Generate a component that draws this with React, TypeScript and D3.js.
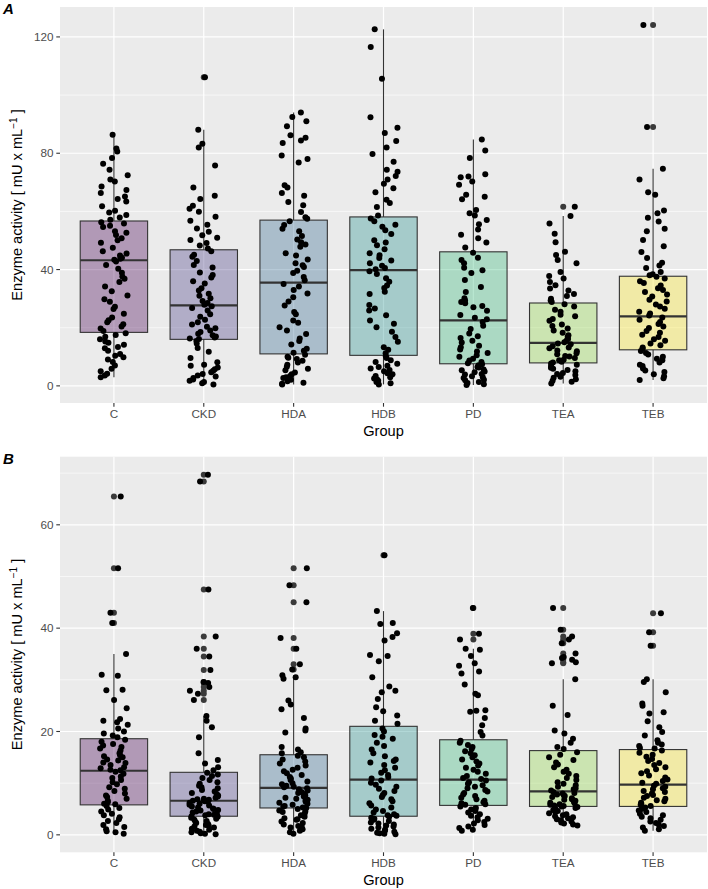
import React, { useRef, useEffect } from 'react';
import * as d3 from 'd3';

const groups = ['C', 'CKD', 'HDA', 'HDB', 'PD', 'TEA', 'TEB'];
const palette = ['#440154', '#443A83', '#31688E', '#21908C', '#35B779', '#8FD744', '#FDE725'];

// panel A values (mU x mL-1)
const aC = [86.4, 81.6, 80.6, 78.4, 76.4, 74.3, 72.4, 71.0, 70.3, 68.6, 67.4, 66.3, 65.1, 64.3, 63.4, 61.8, 60.2, 59.6, 58.8, 57.9, 57.1,
    56.3, 55.8, 55.1, 54.6, 53.2, 52.7, 51.9, 50.8, 50.1, 49.2, 47.5, 46.3, 45.5, 44.8, 44.1, 43.7, 43.4,
    42.8, 41.6, 40.3, 38.9, 37.6, 36.8, 35.7, 34.2, 32.5, 31.1, 29.8, 28.9, 27.2, 26.4, 24.8, 23.5, 22.6, 21.9, 21.2, 20.4, 19.7, 18.9,
    18.1, 17.5, 16.9, 16.0, 15.3, 14.8, 14.1, 13.4, 12.9, 12.1, 11.0, 10.4, 9.8, 9.1, 8.2, 7.0, 5.9, 5.0, 4.2, 3.6, 3.0];
const aCKD = [106.1, 88.1, 83.3, 82.0, 75.8, 68.2, 65.4, 64.3, 61.9, 60.9, 59.9, 58.2, 56.8, 55.4, 54.1, 53.0, 51.8, 50.9, 50.2, 49.1, 48.3, 47.2,
    46.3, 45.1, 44.4, 42.9, 41.6, 40.7, 39.0, 38.1, 37.3, 36.0, 35.2, 33.6, 32.8, 31.7, 31.0, 30.1, 29.2, 28.5, 27.9,
    27.4, 26.8, 25.9, 24.6, 23.8, 22.7, 21.9, 21.1, 20.3, 19.8, 19.0, 18.5, 17.9, 17.4, 17.0, 16.6, 16.3, 16.1,
    15.4, 14.6, 13.0, 11.7, 9.6, 8.1, 7.3, 6.9, 6.3, 5.7, 5.2, 4.7, 4.1, 3.6, 3.2, 2.7, 2.2, 1.8, 1.3, 0.9, 0.5];
const aHDA = [94.0, 92.5, 91.0, 89.3, 86.2, 85.3, 84.4, 83.5, 79.2, 78.0, 76.8, 69.0, 68.2, 66.3, 65.4, 63.2, 62.1, 59.8, 58.0, 57.5,
    56.6, 55.3, 54.0, 53.2, 51.5, 50.3, 49.4, 48.6, 47.8, 45.6, 44.8, 43.5, 42.2, 41.5, 40.9, 39.6, 38.8, 37.4, 36.3,
    35.0, 34.2, 33.0, 31.8, 30.5, 29.0, 27.6, 25.4, 24.6, 22.5, 21.7, 20.2, 19.0, 17.8, 16.3, 15.4, 14.2, 12.8, 12.1, 11.4,
    10.7, 10.0, 9.7, 9.2, 8.6, 8.0, 7.3, 6.6, 5.9, 5.4, 4.6, 4.0, 3.4, 3.0, 2.7, 2.1, 1.6, 1.1, 0.7, 0.5];
const aHDB = [122.6, 116.5, 105.6, 92.4, 88.8, 87.0, 84.2, 82.0, 79.7, 77.1, 74.3, 73.6, 72.2, 71.0, 69.5, 68.0, 66.6, 64.0, 62.9, 61.5, 58.6,
    57.6, 56.6, 55.4, 54.7, 53.5, 52.2, 50.1, 49.3, 48.4, 47.0, 45.6, 44.9, 44.0, 43.1, 42.2, 41.3, 40.5, 40.1,
    39.4, 38.5, 37.0, 35.8, 34.5, 33.7, 32.4, 31.6, 27.8, 26.6, 25.9, 24.3, 22.5, 21.4, 20.2, 18.6, 16.8, 15.2, 13.3, 12.4, 11.2,
    10.2, 9.6, 8.8, 8.2, 7.6, 6.9, 6.5, 6.0, 5.5, 5.0, 4.3, 4.0, 3.4, 3.0, 2.5, 2.2, 1.8, 1.3, 0.9, 0.5];
const aPD = [84.7, 80.9, 78.4, 72.8, 72.0, 71.7, 70.3, 69.2, 65.7, 65.0, 64.2, 60.5, 59.4, 58.6, 57.0, 55.6, 53.8, 52.0, 50.8, 49.3, 47.6,
    45.8, 44.1, 43.3, 42.2, 40.6, 39.8, 38.8, 36.4, 34.0, 32.3, 30.1, 29.4, 28.8, 28.4, 27.5, 27.0, 25.8, 24.4, 23.4, 22.9,
    22.0, 20.7, 19.6, 18.0, 17.1, 16.5, 15.5, 14.9, 13.8, 13.3, 12.5, 11.8, 11.3, 10.5, 10.0, 9.3, 8.7, 8.2, 7.8,
    7.4, 7.1, 6.5, 6.3, 5.6, 5.4, 4.9, 4.7, 4.1, 3.9, 3.3, 3.0, 2.7, 2.1, 1.9, 1.3, 1.0, 0.6, 0.3];
const aTEA = [61.6, 58.4, 55.8, 52.3, 49.4, 46.1, 45.0, 43.3, 42.2, 39.2, 37.8, 36.9, 35.7, 34.6, 33.5, 32.8, 31.6, 30.9, 30.0, 29.4, 28.8,
    28.1, 27.3, 26.2, 25.5, 24.5, 23.9, 23.0, 22.4, 21.1, 20.6, 19.7, 19.0, 18.3, 17.4, 16.9, 16.1, 15.5, 15.0,
    14.6, 14.3, 13.6, 13.2, 12.9, 12.2, 11.9, 11.2, 10.9, 10.3, 10.1, 9.6, 9.0, 8.8, 8.3, 8.0,
    7.7, 7.3, 6.8, 6.2, 5.9, 5.5, 5.0, 4.4, 4.1, 3.7, 3.1, 2.8, 2.3, 1.8, 1.4, 0.8];
const aTEB = [124.1, 89.0, 74.7, 71.0, 66.6, 65.7, 60.3, 59.4, 57.8, 56.5, 54.0, 53.2, 50.2, 48.0, 46.0, 44.0, 42.3, 41.4, 40.5, 39.2, 38.4, 38.0,
    37.5, 36.9, 36.0, 35.4, 34.5, 33.6, 33.0, 32.3, 31.4, 30.7, 29.6, 29.0, 28.0, 27.3, 26.5, 25.5, 24.9, 24.2,
    23.5, 22.7, 22.0, 21.3, 20.4, 19.9, 18.9, 18.3, 17.6, 16.8, 16.0, 15.5, 14.6, 14.0, 13.2, 12.8,
    12.0, 11.3, 10.8, 10.0, 9.3, 8.8, 8.0, 7.3, 6.8, 6.0, 5.3, 4.8, 4.0, 3.3, 2.6, 2.0];
const q1A = [18.4, 16.0, 11.0, 10.5, 7.6, 7.9, 12.4];
const medA = [43.2, 27.7, 35.5, 39.8, 22.5, 14.8, 23.9];
const q3A = [56.7, 46.8, 57.0, 58.1, 46.1, 28.5, 37.7];
const ticksA = [0, 40, 80, 120];

// panel B values
const bC = [65.5, 51.6, 43.0, 41.0, 35.0, 31.0, 30.8, 28.1, 28.0, 26.1, 24.5, 22.4, 22.1, 21.8, 21.3, 20.6, 20.0, 19.6, 19.2, 18.9,
    18.4, 18.0, 17.6, 17.3, 17.0, 16.7, 16.3, 15.8, 15.4, 15.2, 15.0, 14.6, 14.4, 14.0, 13.9, 13.5, 13.1, 12.9, 12.6, 12.5,
    12.2, 11.8, 11.3, 11.0, 10.6, 10.2, 9.8, 9.2, 8.9, 8.5, 8.0, 7.6, 7.3, 7.0, 6.6, 6.3, 6.0, 5.9,
    5.6, 5.2, 4.9, 4.5, 4.1, 3.8, 3.4, 3.0, 2.7, 2.3, 1.9, 1.5, 1.1, 0.7, 0.5, 0.2];
const bCKD = [69.7, 68.4, 47.5, 38.4, 36.0, 34.5, 31.9, 29.6, 29.4, 28.6, 27.9, 27.3, 26.1, 23.0, 22.1, 20.8, 18.9, 15.8, 14.5, 13.8, 13.1, 12.5,
    12.0, 11.7, 11.4, 11.0, 10.6, 10.2, 9.9, 9.5, 9.2, 9.0, 8.7, 8.4, 8.1, 7.9, 7.6, 7.4, 7.2, 7.0, 6.9, 6.8, 6.7, 6.6,
    6.5, 6.4, 6.2, 6.0, 5.8, 5.7, 5.5, 5.3, 5.1, 5.0, 4.8, 4.7, 4.5, 4.3, 4.2, 4.0, 3.9, 3.8, 3.7, 3.6,
    3.5, 3.3, 3.1, 2.9, 2.7, 2.5, 2.3, 2.1, 1.9, 1.8, 1.6, 1.4, 1.2, 1.0, 0.8, 0.6, 0.5, 0.3, 0.2, 0.1];
const bHDA = [51.6, 48.3, 45.0, 38.1, 36.0, 33.0, 32.0, 30.9, 30.5, 30.2, 26.0, 25.2, 24.3, 22.6, 20.6, 20.2, 19.8, 17.0, 16.5, 16.0, 15.8,
    15.3, 15.0, 14.6, 14.2, 13.8, 13.4, 13.0, 12.6, 12.3, 11.9, 11.6, 11.2, 10.9, 10.6, 10.3, 10.0, 9.8, 9.5, 9.3, 9.2,
    9.0, 8.8, 8.6, 8.3, 8.1, 7.9, 7.6, 7.4, 7.2, 7.0, 6.8, 6.6, 6.4, 6.2, 6.0, 5.8, 5.6, 5.5, 5.3, 5.2,
    5.0, 4.7, 4.5, 4.4, 4.1, 3.8, 3.5, 3.2, 3.0, 2.9, 2.6, 2.3, 2.0, 1.7, 1.5, 1.4, 1.1, 0.8, 0.5, 0.2];
const bHDB = [54.1, 43.3, 41.0, 40.8, 39.0, 38.3, 37.6, 34.8, 34.6, 33.6, 30.5, 28.7, 27.9, 27.6, 26.3, 24.7, 23.9, 23.1, 22.1, 21.5,
    20.6, 20.0, 19.3, 19.0, 18.6, 17.8, 17.2, 16.5, 15.8, 15.2, 14.6, 14.3, 14.0, 13.5, 13.0, 12.5, 12.0, 11.6, 11.2, 10.9,
    10.5, 10.1, 9.7, 9.3, 8.9, 8.5, 8.1, 7.7, 7.3, 6.9, 6.5, 6.1, 5.7, 5.3, 4.9, 4.6, 4.3, 4.0, 3.8, 3.7,
    3.5, 3.3, 3.1, 2.9, 2.7, 2.4, 2.2, 2.0, 1.8, 1.6, 1.4, 1.2, 1.0, 0.8, 0.6, 0.4, 0.3, 0.2, 0.1];
const bPD = [43.9, 38.9, 37.8, 36.0, 35.8, 34.6, 33.2, 32.7, 31.6, 31.2, 29.1, 27.3, 27.0, 24.1, 24.0, 23.8, 22.6, 21.2, 19.9, 19.2,
    18.2, 17.8, 17.4, 17.0, 16.6, 16.2, 15.8, 15.4, 15.0, 14.6, 14.2, 13.8, 13.4, 13.0, 12.6, 12.2, 11.8, 11.4, 11.0, 10.8,
    10.5, 10.2, 9.9, 9.6, 9.3, 9.0, 8.7, 8.4, 8.1, 7.8, 7.5, 7.2, 6.9, 6.6, 6.3, 6.1, 5.9, 5.8,
    5.5, 5.2, 4.9, 4.6, 4.3, 4.0, 3.7, 3.4, 3.1, 2.8, 2.5, 2.2, 1.9, 1.6, 1.3, 1.0, 0.8];
const bTEA = [43.9, 39.7, 38.4, 37.8, 37.1, 35.1, 34.4, 34.2, 33.9, 33.4, 33.2, 30.1, 25.0, 23.2, 20.2, 19.6, 18.6, 17.8, 17.0, 16.6,
    16.0, 15.5, 15.0, 14.5, 14.0, 13.6, 13.1, 12.6, 12.2, 11.8, 11.4, 11.0, 10.6, 10.2, 9.9, 9.6, 9.3, 9.0, 8.8, 8.6,
    8.3, 8.1, 8.0, 7.8, 7.6, 7.5, 7.3, 7.1, 6.9, 6.8, 6.6, 6.4, 6.2, 6.1, 5.9, 5.8, 5.7, 5.6, 5.5,
    5.4, 5.2, 5.0, 4.8, 4.6, 4.4, 4.2, 4.0, 3.8, 3.6, 3.4, 3.2, 3.0, 2.8, 2.6, 2.4, 2.2, 2.0, 1.8];
const bTEB = [42.9, 39.2, 36.6, 30.1, 29.6, 27.6, 25.4, 25.0, 23.7, 23.5, 22.0, 20.8, 19.9, 19.2, 18.3, 17.8, 17.5, 17.2, 16.8, 16.7,
    16.3, 15.9, 15.5, 15.1, 14.7, 14.3, 13.9, 13.5, 13.1, 12.7, 12.3, 11.9, 11.5, 11.1, 10.7, 10.4, 10.1, 9.9,
    9.5, 9.3, 9.0, 8.8, 8.5, 8.3, 8.0, 7.7, 7.5, 7.2, 7.0, 6.7, 6.5, 6.2, 6.0, 5.8, 5.6,
    5.3, 5.0, 4.7, 4.4, 4.1, 3.8, 3.5, 3.2, 2.9, 2.6, 2.3, 2.0, 1.7, 1.4, 1.1, 0.8];
const q1B = [5.8, 3.6, 5.2, 3.6, 5.7, 5.5, 5.5];
const medB = [12.4, 6.6, 9.1, 10.7, 10.7, 8.4, 9.7];
const q3B = [18.6, 12.1, 15.5, 21.0, 18.4, 16.3, 16.5];
const ticksB = [0, 20, 40, 60];

const WIDTH = 708;
const HEIGHT = 889;
const LEFT = 60;
const RIGHT = 707;
const FONT = '"Liberation Sans", Arial, Helvetica, sans-serif';
const DOT = 3;

// deterministic horizontal jitter, like geom_jitter(width = 0.16)
const jitter = (n: number) => {
    const s = Math.sin(n * 12.9898 + 78.233) * 43758.5453;
    return (s - Math.floor(s)) * 2 - 1;
};

const drawPanel = (svg: any, p: any) => {
    const all = p.values.flat();
    const [mn, mx] = d3.extent(all) as [number, number];
    const pad = (mx - mn) * 0.05;
    const y = d3.scaleLinear().domain([mn - pad, mx + pad]).range([p.bottom, p.top]);
    const x = d3.scalePoint<string>().domain(groups).range([LEFT, RIGHT]).padding(0.6);
    const step = x.step();
    const bw = step * 0.75;
    const g = svg.append('g');

    g.append('rect')
        .attr('x', LEFT).attr('y', p.top)
        .attr('width', RIGHT - LEFT).attr('height', p.bottom - p.top)
        .attr('fill', '#EBEBEB');

    const half = (p.ticks[1] - p.ticks[0]) / 2;
    const [d0, d1] = y.domain();
    const minor = [p.ticks[0] - half, ...p.ticks.map((t: number) => t + half)].filter(v => v > d0 && v < d1);

    g.append('g').selectAll('line').data(minor).join('line')
        .attr('x1', LEFT).attr('x2', RIGHT)
        .attr('y1', (d: number) => y(d)).attr('y2', (d: number) => y(d))
        .attr('stroke', '#fff').attr('stroke-width', 0.6);
    g.append('g').selectAll('line').data(p.ticks).join('line')
        .attr('x1', LEFT).attr('x2', RIGHT)
        .attr('y1', (d: number) => y(d)).attr('y2', (d: number) => y(d))
        .attr('stroke', '#fff').attr('stroke-width', 1.2);
    g.append('g').selectAll('line').data(groups).join('line')
        .attr('x1', (d: string) => x(d)).attr('x2', (d: string) => x(d))
        .attr('y1', p.top).attr('y2', p.bottom)
        .attr('stroke', '#fff').attr('stroke-width', 1.2);

    // boxplots
    groups.forEach((name, i) => {
        const vals: number[] = p.values[i];
        const q1 = p.q1[i], q3 = p.q3[i], iqr = q3 - q1;
        const inRange = (v: number) => v >= q1 - 1.5 * iqr && v <= q3 + 1.5 * iqr;
        const inside = vals.filter(inRange);
        const outliers = vals.filter(v => !inRange(v));
        const wLo = d3.min(inside) as number;
        const wHi = d3.max(inside) as number;
        const cx = x(name) as number;
        const bg = g.append('g');

        bg.append('line').attr('x1', cx).attr('x2', cx).attr('y1', y(q3)).attr('y2', y(wHi))
            .attr('stroke', '#333').attr('stroke-width', 1.1);
        bg.append('line').attr('x1', cx).attr('x2', cx).attr('y1', y(q1)).attr('y2', y(wLo))
            .attr('stroke', '#333').attr('stroke-width', 1.1);
        bg.append('rect')
            .attr('x', cx - bw / 2).attr('y', y(q3))
            .attr('width', bw).attr('height', y(q1) - y(q3))
            .attr('fill', palette[i]).attr('fill-opacity', 0.35)
            .attr('stroke', '#333').attr('stroke-width', 1.1);
        bg.append('line')
            .attr('x1', cx - bw / 2).attr('x2', cx + bw / 2)
            .attr('y1', y(p.med[i])).attr('y2', y(p.med[i]))
            .attr('stroke', '#333').attr('stroke-width', 2.2);
        bg.selectAll('circle').data(outliers).join('circle')
            .attr('cx', cx).attr('cy', (d: number) => y(d)).attr('r', DOT)
            .attr('fill', '#3a3a3a');
    });

    // jittered points
    groups.forEach((name, i) => {
        const cx = x(name) as number;
        g.append('g').selectAll('circle').data(p.values[i]).join('circle')
            .attr('cx', (d: number, j: number) => cx + jitter(p.seed + i * 211 + j * 7.13) * step * 0.16)
            .attr('cy', (d: number) => y(d))
            .attr('r', DOT)
            .attr('fill', '#000');
    });

    // axes
    g.append('g').selectAll('line').data(p.ticks).join('line')
        .attr('x1', LEFT - 3.7).attr('x2', LEFT)
        .attr('y1', (d: number) => y(d)).attr('y2', (d: number) => y(d))
        .attr('stroke', '#333').attr('stroke-width', 1.1);
    g.append('g').selectAll('text').data(p.ticks).join('text')
        .attr('x', LEFT - 6.5).attr('y', (d: number) => y(d)).attr('dy', '0.35em')
        .attr('text-anchor', 'end').attr('font-size', 11.7).attr('fill', '#4D4D4D')
        .attr('font-family', FONT)
        .text((d: number) => d);
    g.append('g').selectAll('line').data(groups).join('line')
        .attr('x1', (d: string) => x(d)).attr('x2', (d: string) => x(d))
        .attr('y1', p.bottom).attr('y2', p.bottom + 3.7)
        .attr('stroke', '#333').attr('stroke-width', 1.1);
    g.append('g').selectAll('text').data(groups).join('text')
        .attr('x', (d: string) => x(d)).attr('y', p.bottom + 15)
        .attr('text-anchor', 'middle').attr('font-size', 11.7).attr('fill', '#4D4D4D')
        .attr('font-family', FONT)
        .text((d: string) => d);

    g.append('text')
        .attr('x', (LEFT + RIGHT) / 2).attr('y', p.bottom + 33)
        .attr('text-anchor', 'middle').attr('font-size', 14.6).attr('font-family', FONT)
        .text('Group');

    const yt = g.append('text')
        .attr('transform', `translate(22,${(p.top + p.bottom) / 2}) rotate(-90)`)
        .attr('text-anchor', 'middle').attr('font-size', 14.6).attr('font-family', FONT);
    yt.append('tspan').text('Enzyme activity [ mU x mL');
    yt.append('tspan').attr('dy', -5.5).attr('font-size', 10).text('\u22121');
    yt.append('tspan').attr('dy', 5.5).text(' ]');

    g.append('text')
        .attr('x', 3).attr('y', p.top + 7)
        .attr('font-size', 15).attr('font-weight', 'bold').attr('font-style', 'italic')
        .attr('font-family', FONT)
        .text(p.label);
};

const App = () => {
    const chartRef = useRef<SVGSVGElement>(null);

    useEffect(() => {
        const svg = d3.select(chartRef.current)
            .attr('width', WIDTH)
            .attr('height', HEIGHT);

        svg.selectAll('*').remove();

        drawPanel(svg, {
            label: 'A', top: 7, bottom: 403, seed: 3,
            values: [aC, aCKD, aHDA, aHDB, aPD, aTEA, aTEB],
            q1: q1A, med: medA, q3: q3A, ticks: ticksA,
        });
        drawPanel(svg, {
            label: 'B', top: 456.7, bottom: 852.3, seed: 5000,
            values: [bC, bCKD, bHDA, bHDB, bPD, bTEA, bTEB],
            q1: q1B, med: medB, q3: q3B, ticks: ticksB,
        });
    }, []);

    return (
        <svg ref={chartRef} style={{ position: 'absolute', left: 0, top: 0, background: '#fff' }}></svg>
    );
};

export default App;
